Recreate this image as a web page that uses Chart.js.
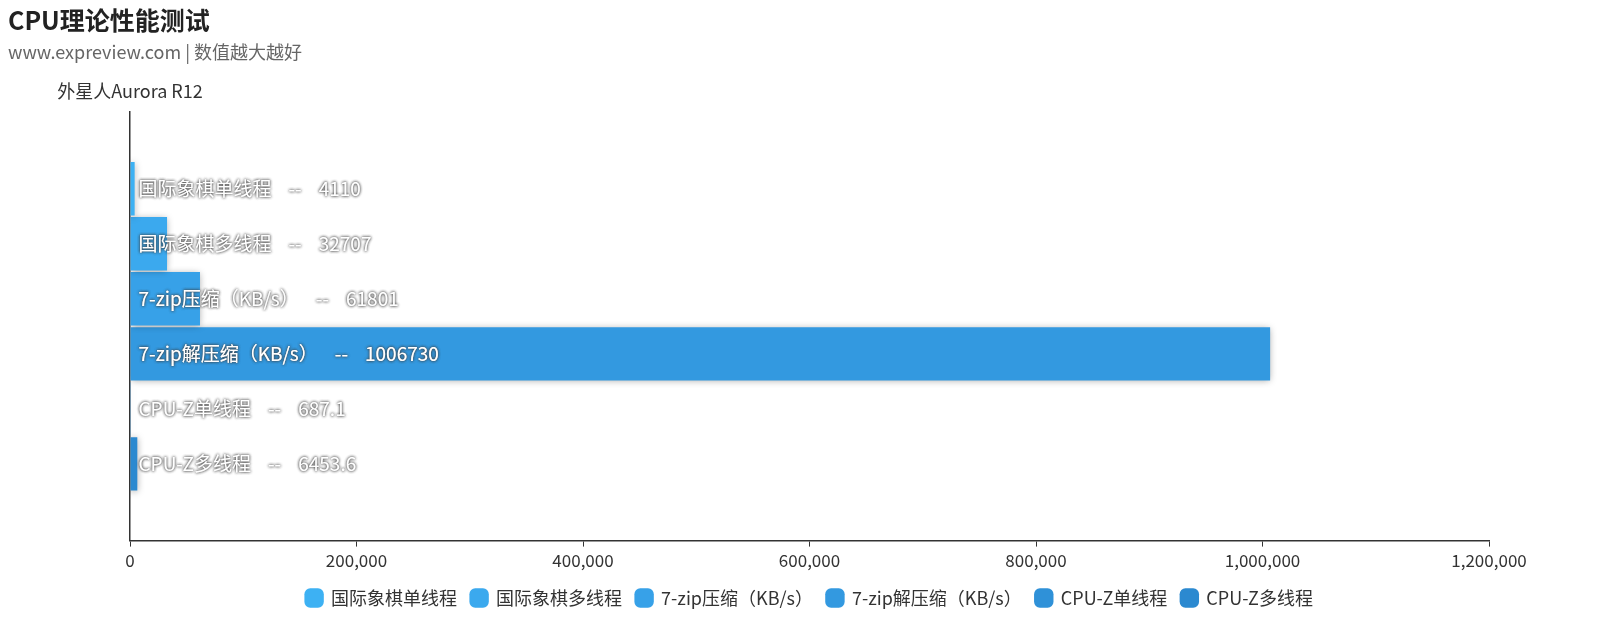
<!DOCTYPE html>
<html>
<head>
<meta charset="utf-8">
<script src="https://cdn.jsdelivr.net/npm/chart.js"></script>
<style>
  html, body { margin: 0; padding: 0; background: #fff; }
  #wrap { width: 1620px; height: 634px; position: relative; }
</style>
</head>
<body>
<div id="wrap"><canvas id="cpu-chart"></canvas></div>
<script>
// dati del grafico
const categories = ['外星人Aurora R12'];
const seriesNames = ['国际象棋单线程', '国际象棋多线程', '7-zip压缩（KB/s）', '7-zip解压缩（KB/s）', 'CPU-Z单线程', 'CPU-Z多线程'];
const seriesValues = [4110, 32707, 61801, 1006730, 687.1, 6453.6];
const seriesColors = ['#3DB1F3', '#3BA9EE', '#37A1E8', '#3399E0', '#2F91D8', '#2B89D0'];
const xTicks = [0, 200000, 400000, 600000, 800000, 1000000, 1200000];

const titleText = 'CPU理论性能测试';
const subtitleText = 'www.expreview.com | 数值越大越好';

const FONT = '"Noto Sans CJK SC", "Noto Sans", sans-serif';

// titoli + nome categoria sopra l'asse
const headerPlugin = {
  id: 'header',
  afterDraw(chart) {
    const ctx = chart.ctx;
    const area = chart.chartArea;
    ctx.save();
    ctx.textBaseline = 'alphabetic';
    ctx.textAlign = 'left';
    ctx.fillStyle = '#222';
    ctx.font = 'bold 25px ' + FONT;
    ctx.fillText(titleText, 8, 30);
    ctx.fillStyle = '#666';
    ctx.font = '18px ' + FONT;
    ctx.fillText(subtitleText, 8, 59);
    ctx.fillStyle = '#333';
    ctx.textAlign = 'center';
    ctx.fillText(categories[0], area.left, area.top - 14);
    ctx.restore();
  }
};

// ombra sotto le barre
const shadowPlugin = {
  id: 'barShadow',
  beforeDatasetsDraw(chart) {
    const ctx = chart.ctx;
    ctx.save();
    ctx.shadowColor = 'rgba(0,0,0,0.35)';
    ctx.shadowBlur = 7;
    ctx.shadowOffsetY = 1;
  },
  afterDatasetsDraw(chart) {
    chart.ctx.restore();
  }
};

// etichette "nome -- valore" dentro le barre
const labelPlugin = {
  id: 'barLabels',
  afterDatasetsDraw(chart) {
    const ctx = chart.ctx;
    ctx.save();
    ctx.font = '19px ' + FONT;
    ctx.textBaseline = 'middle';
    ctx.textAlign = 'left';
    chart.data.datasets.forEach((ds, i) => {
      const meta = chart.getDatasetMeta(i);
      const bar = meta.data[0];
      if (!bar) return;
      const text = seriesNames[i] + '    --    ' + seriesValues[i];
      ctx.shadowColor = 'rgba(60,60,60,0.9)';
      ctx.shadowBlur = 3;
      ctx.fillStyle = '#fff';
      ctx.fillText(text, bar.base + 8, bar.y);
      ctx.fillText(text, bar.base + 8, bar.y);
    });
    ctx.restore();
  }
};

const datasets = seriesNames.map((name, i) => ({
  label: name,
  data: [seriesValues[i]],
  backgroundColor: seriesColors[i],
  borderWidth: 0,
  categoryPercentage: 0.77,
  barPercentage: 0.97
}));

new Chart(document.getElementById('cpu-chart'), {
  type: 'bar',
  data: { labels: categories, datasets: datasets },
  options: {
    indexAxis: 'y',
    responsive: true,
    maintainAspectRatio: false,
    animation: false,
    layout: { padding: { top: 112, left: 130, right: 131, bottom: 17 } },
    plugins: {
      legend: {
        position: 'bottom',
        labels: {
          font: { family: FONT, size: 18 },
          color: '#333',
          usePointStyle: true,
          pointStyle: 'rectRounded',
          boxWidth: 16,
          boxHeight: 16,
          padding: 14
        }
      },
      tooltip: { enabled: false }
    },
    scales: {
      x: {
        min: 0,
        max: 1200000,
        afterBuildTicks: axis => { axis.ticks = xTicks.map(v => ({ value: v })); },
        border: { color: '#333', width: 1.5 },
        grid: { drawOnChartArea: false, drawTicks: true, tickLength: 6, color: '#333' },
        ticks: {
          color: '#333',
          font: { family: FONT, size: 17 },
          padding: 4,
          callback: v => v.toLocaleString('en-US')
        }
      },
      y: {
        border: { color: '#333', width: 1.5 },
        grid: { display: false, drawTicks: false },
        ticks: { display: false }
      }
    }
  },
  plugins: [headerPlugin, shadowPlugin, labelPlugin]
});
</script>
</body>
</html>
